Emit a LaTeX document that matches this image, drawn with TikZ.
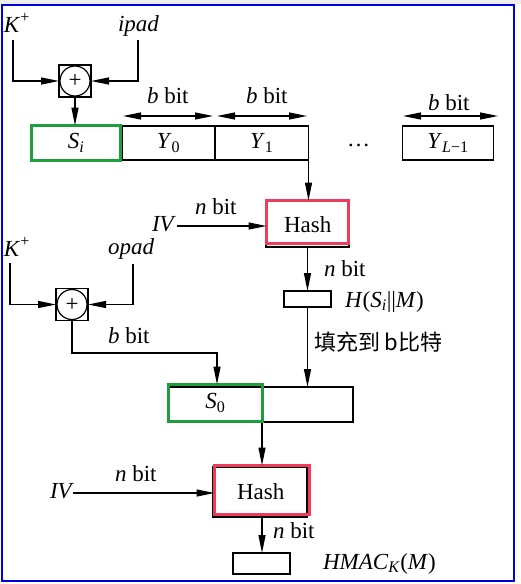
\documentclass[tikz,border=0pt]{standalone}
\usepackage{fontspec}
\setmainfont{Liberation Serif}
\newfontfamily\cjk{Noto Sans CJK SC}
\usetikzlibrary{arrows.meta}
\definecolor{hred}{RGB}{240,60,90}
\definecolor{hgreen}{RGB}{30,158,60}
\definecolor{frameblue}{RGB}{0,0,225}
\begin{document}
\begin{tikzpicture}[x=1pt,y=-1pt,line width=1.2pt,
  every node/.style={font=\fontsize{23}{26}\selectfont,inner sep=0pt,outer sep=0pt},
  tip/.style={Triangle[length=18pt,width=7pt]},
  arr/.style={-{Triangle[length=18pt,width=7pt]}},
  darr/.style={{Triangle[length=18pt,width=7pt]}-{Triangle[length=18pt,width=7pt]}},
  blk/.style={draw,line width=1.2pt},
  greenbox/.style={draw=hgreen,line width=3pt},
  redbox/.style={draw=hred,line width=3pt},
  xorbox/.style={draw,line width=1.2pt,minimum width=32pt,minimum height=32pt},
  lbl/.style={anchor=base west}]
\useasboundingbox (0,0) rectangle (521,584);
\fill[white] (0,0) rectangle (521,584);
\fill[black!7] (0,0) rectangle (521,3.5);
\draw[frameblue,line width=2pt] (1.5,4.5) rectangle (514,581);

% ---- inner hash ----
\node[lbl] (K1) at (4,32) {\textit{K}\textsuperscript{+}};
\node[lbl] (ipad) at (118,31) {\textit{ipad}};
\node[xorbox] (x1) at (75,81) {};
\draw (x1.center) circle[radius=15pt];
\node at (x1.center) {+};
\coordinate (k1s) at (13,40);
\coordinate (ipads) at (138,40);
\draw[arr] (k1s) |- (x1.west);
\draw[arr] (ipads) |- (x1.east);

\node[blk,minimum width=93pt,minimum height=34pt] (Y0) at (168.5,143) {\textit{Y}\textsubscript{0}};
\node[blk,minimum width=93.5pt,minimum height=34pt] (Y1) at (261.75,143) {\textit{Y}\textsubscript{1}};
\node[blk,minimum width=91pt,minimum height=34pt] (YL) at (448,143) {\textit{Y}\textsubscript{\textit{L}−1}};
\node[greenbox,minimum width=89pt,minimum height=35pt] (Si) at (76,143) {\textit{S}\textsubscript{\textit{i}}};
\node[lbl] (dots) at (347,146) {…};
\draw[arr] (x1.south) -- (x1.south |- Si.north);

\coordinate (d1a) at (123,116); \coordinate (d1b) at (213,116);
\coordinate (d2a) at (217,116); \coordinate (d2b) at (307,116);
\coordinate (d3a) at (403,116); \coordinate (d3b) at (498,116);
\draw[darr] (d1a) -- (d1b);
\draw[darr] (d2a) -- (d2b);
\draw[darr] (d3a) -- (d3b);
\node[lbl] (bb1) at (147,103) {\textit{b} bit};
\node[lbl] (bb2) at (246,103) {\textit{b} bit};
\node[lbl] (bb3) at (428,110) {\textit{b} bit};

\node[blk,minimum width=83pt,minimum height=46pt] (H1b) at (307.5,224) {};
\node[redbox,minimum width=82pt,minimum height=43pt] (H1) at (307.5,222) {};
\node[lbl] (H1t) at (284,232) {Hash};
\draw[arr] (Y1.south east) -- (Y1.south east |- H1.north);

\node[lbl] (IV1) at (152,231) {\textit{IV}};
\coordinate (iv1e) at (177,226);
\draw[arr] (iv1e) -- (iv1e -| H1.west);
\node[lbl] (nb1) at (195,214) {\textit{n} bit};

\node[blk,minimum width=47pt,minimum height=16pt] (h1) at (307.5,299) {};
\draw[arr] (H1b.south) -- (h1.north);
\node[lbl] (nb2) at (324,276) {\textit{n} bit};
\node[lbl] (HSM) at (345,307) {\textit{H}(\textit{S}\textsubscript{\textit{i}}||\textit{M})};
\node[lbl,font=\cjk\fontsize{22}{26}\selectfont] (pad) at (314,350) {填充到 b比特};

% ---- outer hash ----
\node[lbl] (K2) at (4,256) {\textit{K}\textsuperscript{+}};
\node[lbl] (opad) at (108,254) {\textit{opad}};
\node[xorbox] (x2) at (72,304.5) {};
\draw (x2.center) circle[radius=15pt];
\node at (x2.center) {+};
\coordinate (k2s) at (10,263);
\coordinate (opads) at (133,264);
\draw[arr] (k2s) |- (x2.west);
\draw[arr] (opads) |- (x2.east);

\node[blk,minimum width=184pt,minimum height=35pt] (row) at (261,404.5) {};
\draw (262,387) -- (262,422);
\node[greenbox,minimum width=94pt,minimum height=37pt] (S0) at (215.5,403) {\textit{S}\textsubscript{0}};
\draw[arr] (h1.south) -- (h1.south |- row.north);
\coordinate (bj) at (217,353);
\draw[arr] (x2.south) |- (bj) -- (bj |- S0.north);
\node[lbl] (bb4) at (108,343) {\textit{b} bit};

\node[blk,minimum width=94pt,minimum height=50pt] (H2b) at (260,492) {};
\node[redbox,minimum width=95pt,minimum height=49pt] (H2) at (262,490) {};
\node[lbl] (H2t) at (237,499) {Hash};
\coordinate (s0s) at (262,423);
\draw[arr] (s0s) -- (s0s |- H2.north);

\node[lbl] (IV2) at (50,498) {\textit{IV}};
\coordinate (iv2e) at (73,493);
\draw[arr] (iv2e) -- (iv2e -| H2.west);
\node[lbl] (nb5) at (115,481) {\textit{n} bit};

\node[blk,minimum width=57pt,minimum height=21pt] (h2) at (261.5,563.5) {};
\coordinate (h2s) at (262,517);
\draw[arr] (h2s) -- (h2s |- h2.north);
\node[lbl] (nb6) at (273,538) {\textit{n} bit};
\node[lbl] (HMAC) at (323,569) {\textit{HMAC}\textsubscript{\textit{K}}(\textit{M})};
\end{tikzpicture}
\end{document}
